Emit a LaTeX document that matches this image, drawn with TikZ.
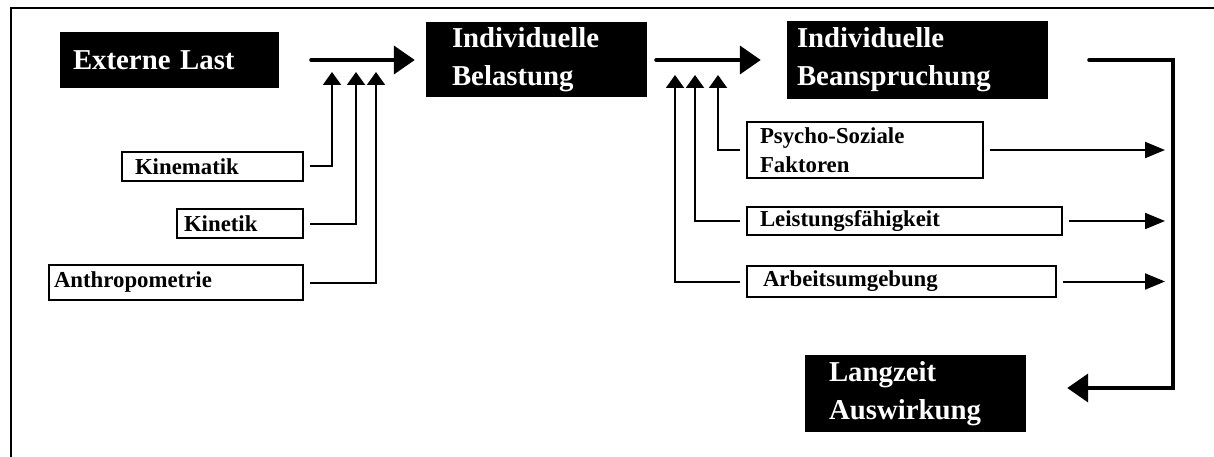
\documentclass[tikz,border=0pt]{standalone}
\usepackage{fontspec}
\setmainfont{Liberation Serif}
\usetikzlibrary{arrows.meta}

\tikzset{
  blackbox/.style={fill=black,text=white,inner ysep=0pt,align=left,
    font=\bfseries\fontsize{28.8}{38}\selectfont},
  whitebox/.style={draw,line width=2pt,inner ysep=0pt,align=left,
    font=\bfseries\fontsize{22.8}{29}\selectfont},
  flow/.style={line width=4pt,line cap=round,-{Triangle[length=21pt,width=28pt]}},
  feed/.style={line width=2pt,-{Triangle[length=13pt,width=18pt]}},
  sidearrow/.style={line width=2pt,-{Triangle[length=20pt,width=16pt]}},
}

\begin{document}
\begin{tikzpicture}[x=1pt,y=-1pt]
\useasboundingbox (0,0) rectangle (1214,457);
\draw[line width=2pt] (1214,8) -- (11,8) -- (11,457);

% main chain
\node[blackbox,minimum height=56pt,inner xsep=13pt,text width=193pt] (ext) at (169.5,60) {Externe Last};
\node[blackbox,minimum height=75pt,inner xsep=26pt,text width=169pt] (bel) at (536.5,60) {Individuelle\\Belastung};
\node[blackbox,minimum height=78pt,inner xsep=10pt,text width=241pt] (bean) at (917.5,60) {Individuelle\\Beanspruchung};
\node[blackbox,minimum height=77pt,inner xsep=24pt,text width=173pt] (lang) at (915.5,393.5) {Langzeit\\Auswirkung};

% influences
\node[whitebox,minimum height=29pt,inner xsep=13pt,text width=155pt] (kinem) at (212.5,166.5) {Kinematik};
\node[whitebox,minimum height=29pt,inner xsep=7pt,text width=112pt] (kinet) at (240,223.5) {Kinetik};
\node[whitebox,minimum height=35pt,inner xsep=5pt,text width=244pt] (anthro) at (176,282.5) {Anthropometrie};
\node[whitebox,minimum height=56pt,inner xsep=13pt,text width=210pt] (psy) at (865,150) {Psycho-Soziale\\Faktoren};
\node[whitebox,minimum height=28pt,inner xsep=13pt,text width=289pt] (leist) at (904.5,221) {Leistungsfähigkeit};
\node[whitebox,minimum height=31pt,inner xsep=16pt,text width=277pt] (arb) at (901.5,281.5) {Arbeitsumgebung};

\draw[flow] ([xshift=32pt]ext.east) -- ([xshift=-11pt]bel.west);
\draw[flow] ([xshift=9pt]bel.east) -- ([xshift=-26pt]bean.west);
\coordinate (turn) at (1173,388);
\draw[flow] ([xshift=41pt]bean.east) -| (turn) -- ([xshift=41pt,yshift=5.5pt]lang.east);

\foreach \n/\x in {kinem/332,kinet/356,anthro/376}{
  \coordinate (to-\n) at (\x,72);
  \draw[feed] ([xshift=6pt]\n.east) -| (to-\n);
}
\foreach \n/\x in {psy/718,leist/695,arb/675}{
  \coordinate (to-\n) at (\x,75);
  \draw[feed] ([xshift=-6pt]\n.west) -| (to-\n);
}

\coordinate (rail) at (1165,0);
\foreach \n in {psy,leist,arb}
  \draw[sidearrow] ([xshift=6pt]\n.east) -- (\n.east -| rail);
\end{tikzpicture}
\end{document}
